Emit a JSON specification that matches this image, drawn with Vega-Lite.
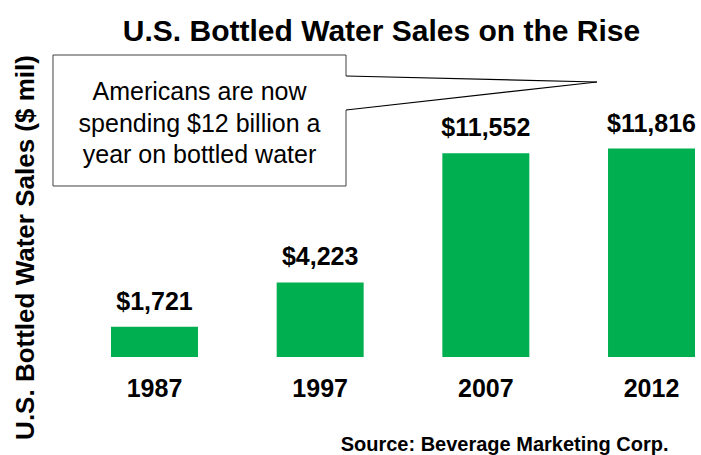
{
  "$schema": "https://vega.github.io/schema/vega-lite/v6.json",
  "width": 701,
  "height": 307,
  "autosize": {"type": "none"},
  "padding": {"top": 50, "left": 0, "right": 0, "bottom": 98},
  "background": "white",
  "title": {
    "text": "U.S. Bottled Water Sales on the Rise",
    "font": "Liberation Sans",
    "fontSize": 30,
    "fontWeight": "bold",
    "color": "#000000",
    "anchor": "middle",
    "baseline": "alphabetic",
    "dx": 31,
    "offset": -21
  },
  "data": {
    "values": [
      {"year": "1987", "sales": 1721},
      {"year": "1997", "sales": 4223},
      {"year": "2007", "sales": 11552},
      {"year": "2012", "sales": 11816}
    ]
  },
  "layer": [
    {
      "encoding": {
        "x": {
          "field": "year",
          "type": "nominal",
          "sort": null,
          "scale": {"range": [111, 695], "paddingInner": 0.475, "paddingOuter": 0},
          "axis": {
            "title": "Source: Beverage Marketing Corp.",
            "titleFont": "Liberation Sans",
            "titleFontSize": 20,
            "titleFontWeight": "bold",
            "titleColor": "#000000",
            "titleX": 668,
            "titleY": 93,
            "titleAlign": "right",
            "titleBaseline": "alphabetic",
            "labelFont": "Liberation Sans",
            "labelFontSize": 25,
            "labelFontWeight": "bold",
            "labelColor": "#000000",
            "labelAngle": 0,
            "labelBaseline": "alphabetic",
            "labelPadding": 39,
            "ticks": false,
            "tickSize": 0,
            "domain": false,
            "grid": false
          }
        },
        "y": {
          "field": "sales",
          "type": "quantitative",
          "scale": {"domain": [0, 17400], "nice": false, "zero": true},
          "axis": {
            "title": "U.S. Bottled Water Sales ($ mil)",
            "titleFont": "Liberation Sans",
            "titleFontSize": 26,
            "titleFontWeight": "bold",
            "titleColor": "#000000",
            "titleAngle": -90,
            "titleX": 33,
            "titleY": 197,
            "titleAlign": "center",
            "titleBaseline": "alphabetic",
            "labels": false,
            "ticks": false,
            "domain": false,
            "grid": false
          }
        }
      },
      "layer": [
        {"mark": {"type": "bar", "color": "#00B050"}},
        {
          "mark": {
            "type": "text",
            "font": "Liberation Sans",
            "fontSize": 25,
            "fontWeight": "bold",
            "color": "#000000",
            "align": "center",
            "baseline": "alphabetic",
            "dy": -17
          },
          "encoding": {"text": {"field": "sales", "type": "quantitative", "format": "$,.0f"}}
        }
      ]
    },
    {
      "data": {"values": [{}]},
      "layer": [
        {
          "mark": {"type": "rect", "fill": "white", "stroke": "#404040", "strokeWidth": 1},
          "encoding": {
            "x": {"datum": 0.0756, "type": "quantitative", "scale": {"domain": [0, 1]}, "axis": null},
            "x2": {"datum": 0.4936},
            "y": {"datum": 17116, "type": "quantitative"},
            "y2": {"datum": 9692}
          }
        },
        {
          "mark": {"type": "rule", "stroke": "white", "strokeWidth": 3},
          "encoding": {
            "x": {"datum": 0.4936, "type": "quantitative", "scale": {"domain": [0, 1]}, "axis": null},
            "y": {"datum": 15926, "type": "quantitative"},
            "y2": {"datum": 13999}
          }
        },
        {
          "mark": {"type": "rule", "stroke": "#000000", "strokeWidth": 1.2},
          "encoding": {
            "x": {"datum": 0.4936, "type": "quantitative", "scale": {"domain": [0, 1]}, "axis": null},
            "x2": {"datum": 0.8516},
            "y": {"datum": 15926, "type": "quantitative"},
            "y2": {"datum": 15586}
          }
        },
        {
          "mark": {"type": "rule", "stroke": "#000000", "strokeWidth": 1.2},
          "encoding": {
            "x": {"datum": 0.4936, "type": "quantitative", "scale": {"domain": [0, 1]}, "axis": null},
            "x2": {"datum": 0.8516},
            "y": {"datum": 13999, "type": "quantitative"},
            "y2": {"datum": 15586}
          }
        },
        {
          "mark": {
            "type": "text",
            "font": "Liberation Sans",
            "fontSize": 25,
            "color": "#000000",
            "align": "center",
            "baseline": "alphabetic",
            "lineHeight": 31.5
          },
          "encoding": {
            "x": {"datum": 0.2846, "type": "quantitative", "scale": {"domain": [0, 1]}, "axis": null},
            "y": {"datum": 14566, "type": "quantitative"},
            "text": {"value": ["Americans are now", "spending $12 billion a", "year on bottled water"]}
          }
        }
      ]
    }
  ],
  "resolve": {"scale": {"x": "independent"}},
  "config": {
    "font": "Liberation Sans",
    "view": {"stroke": null}
  }
}
